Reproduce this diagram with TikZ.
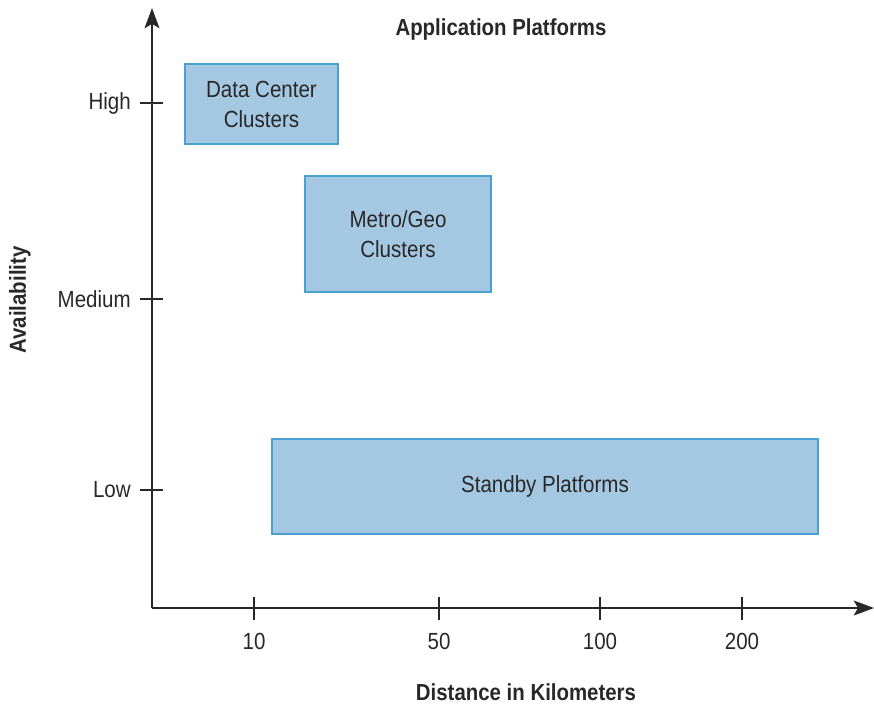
\documentclass[tikz,border=0pt]{standalone}
\usepackage{fontspec}
\setmainfont{Liberation Sans}[FakeStretch=0.88]
\usetikzlibrary{arrows.meta}
\definecolor{boxfill}{RGB}{165,200,226}
\definecolor{boxline}{RGB}{75,160,210}
\definecolor{ink}{RGB}{40,40,40}
\tikzset{
  pbox/.style={draw=boxline, fill=boxfill, line width=1.2pt, align=center, text=ink, font=\fontsize{17.5}{22.5}\selectfont, inner sep=0pt},
  axis/.style={draw=ink, line width=2.1pt},
  tick/.style={draw=ink, line width=1.6pt},
  ticklab/.style={text=ink, font=\fontsize{17.5}{20}\selectfont, inner sep=0pt},
  heading/.style={text=ink, font=\bfseries\fontsize{17.4}{19}\selectfont, inner sep=0pt}
}
\begin{document}
\begin{tikzpicture}[x=0.75pt,y=-0.75pt]
\useasboundingbox (0,0) rectangle (874,704);
% axes
\coordinate (O) at (152,608);
\coordinate (ytop) at (152,8);
\coordinate (xend) at (874,608);
\draw[axis,-{Stealth[length=15pt,width=11pt,inset=3pt]}] (O) -- (ytop);
\draw[axis,-{Stealth[length=15pt,width=11pt,inset=3pt]}] (O) -- (xend);
% y ticks
\foreach \yy/\lab/\nm in {103/High/hi, 299/Medium/med, 490/Low/lo}{
  \coordinate (\nm a) at (140,\yy);
  \coordinate (\nm b) at (163,\yy);
  \draw[tick] (\nm a) -- (\nm b);
  \node[ticklab, anchor=east] (\nm) at (131,\yy) {\lab};
}
% x ticks
\foreach \xx/\lab/\nm in {254/10/t10, 439/50/t50, 600/100/t100, 742/200/t200}{
  \coordinate (\nm a) at (\xx,597);
  \coordinate (\nm b) at (\xx,620);
  \draw[tick] (\nm a) -- (\nm b);
  \node[ticklab] (\nm) at (\xx,641) {\lab};
}
% boxes
\node[pbox, minimum width=153*0.75pt, minimum height=80*0.75pt] (dc) at (261.5,104) {Data Center\\Clusters};
\node[pbox, minimum width=186*0.75pt, minimum height=116*0.75pt] (mg) at (398,234) {Metro/Geo\\Clusters};
\node[pbox, minimum width=546*0.75pt, minimum height=95*0.75pt] (sp) at (545,486.5) {Standby Platforms};
% titles
\node[heading] (title) at (501,29) {Application Platforms};
\node[heading] (xlab) at (526,692) {Distance in Kilometers};
\node[heading, rotate=90] (ylab) at (20,300) {Availability};
\end{tikzpicture}
\end{document}
